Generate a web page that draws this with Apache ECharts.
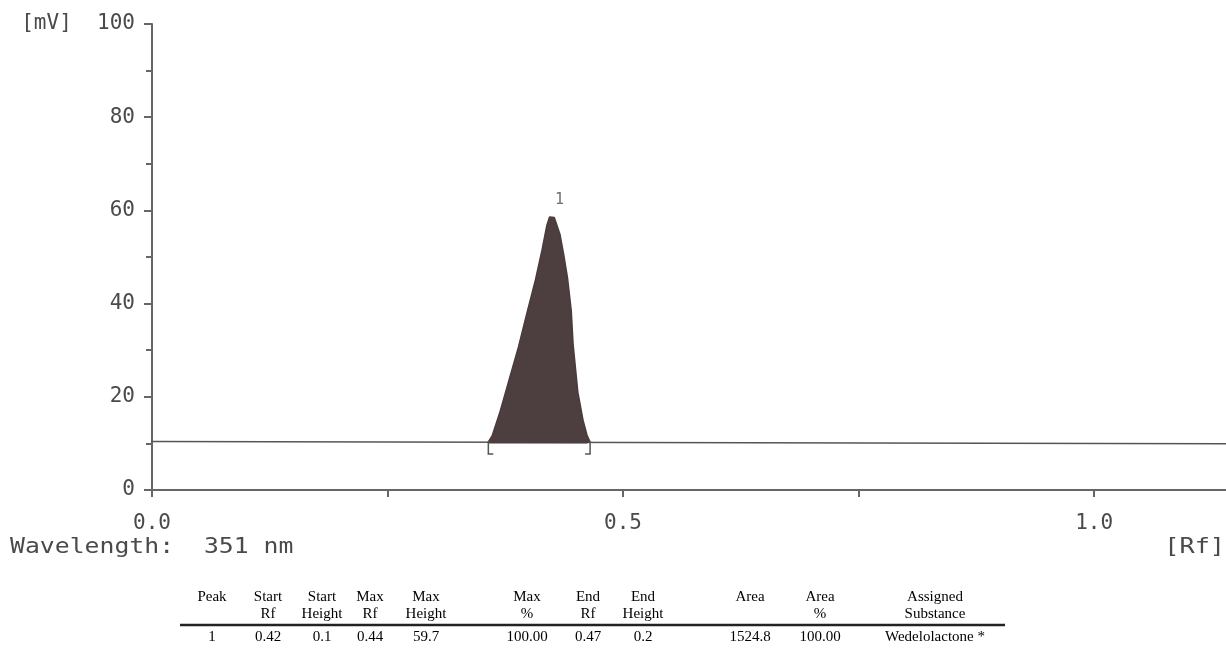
<!DOCTYPE html>
<html>
<head>
<meta charset="utf-8">
<title>Densitogram</title>
<script src="https://cdn.jsdelivr.net/npm/echarts@6/dist/echarts.min.js"></script>
<style>
  html, body { margin: 0; padding: 0; background: #fff; }
  #chart { width: 1226px; height: 655px; }
</style>
</head>
<body>
<div id="chart"></div>
<script>
// scan track (Rf vs mV)
const peakRf = [0.357, 0.361, 0.369, 0.379, 0.389, 0.398, 0.407, 0.414, 0.419, 0.422, 0.424, 0.427, 0.433, 0.437, 0.441, 0.445, 0.447, 0.452, 0.4575, 0.4617, 0.465]
const peakMv = [10.3, 11.6, 16.5, 23.6, 30.7, 38.0, 45.1, 51.5, 56.7, 58.6, 59.0, 58.5, 54.9, 50.5, 45.6, 38.5, 31.2, 21.0, 15.0, 11.8, 10.3]
const baselineRf = [-0.01, 1.14]
const baselineMv = [10.4, 9.9]
// peak start / end brackets
const bracketRf = [0.357, 0.465]
const bracketMv = [10.3, 10.3]
const peakTop = [0.424, 59.0]
const peakName = '1'

const yTicks = [0, 20, 40, 60, 80, 100]
const xTickLabels = ['0.0', '', '0.5', '', '1.0']

// result table
const tableHead1 = ['Peak', 'Start', 'Start', 'Max', 'Max', 'Max', 'End', 'End', 'Area', 'Area', 'Assigned']
const tableHead2 = ['', 'Rf', 'Height', 'Rf', 'Height', '%', 'Rf', 'Height', '', '%', 'Substance']
const tableRow = ['1', '0.42', '0.1', '0.44', '59.7', '100.00', '0.47', '0.2', '1524.8', '100.00', 'Wedelolactone *']
// column centres (layout only)
const colX = [212, 268, 322, 370, 426, 527, 588, 643, 750, 820, 935]

const chart = echarts.init(document.getElementById('chart'))

const monoFont = 'DejaVu Sans Mono'
const textGray = '#4a4a4a'

const tableGraphics = []
colX.forEach((x, i) => {
  const rows = [[tableHead1[i], 597], [tableHead2[i], 614], [tableRow[i], 637]]
  rows.forEach(([t, y]) => {
    if (!t) return
    tableGraphics.push({
      type: 'text',
      x: x,
      y: y,
      silent: true,
      style: {
        text: t,
        font: '15px "Liberation Serif"',
        fill: '#000',
        align: 'center',
        verticalAlign: 'middle'
      }
    })
  })
})
tableGraphics.push({
  type: 'line',
  silent: true,
  shape: { x1: 180, y1: 625, x2: 1005, y2: 625 },
  style: { stroke: '#222', lineWidth: 2.5 }
})

const option = {
  animation: false,
  backgroundColor: '#fff',
  grid: { left: 152, top: 24, right: 0, bottom: 165 },
  xAxis: {
    type: 'value',
    min: 0,
    max: 1.14,
    interval: 0.25,
    axisLine: { lineStyle: { color: '#666', width: 2 } },
    axisTick: { length: 7, lineStyle: { color: '#666', width: 2 } },
    splitLine: { show: false },
    axisLabel: {
      margin: 23,
      fontFamily: monoFont,
      fontSize: 21,
      color: textGray,
      showMaxLabel: false,
      formatter: (v) => {
        const k = Math.round(v / 0.25)
        return xTickLabels[k] !== undefined ? xTickLabels[k] : ''
      }
    }
  },
  yAxis: {
    type: 'value',
    min: 0,
    max: 100,
    interval: 20,
    axisLine: { show: true, lineStyle: { color: '#666', width: 2 } },
    axisTick: { show: true, length: 8, lineStyle: { color: '#666', width: 2 } },
    minorTick: { show: true, splitNumber: 2, length: 6, lineStyle: { color: '#666', width: 2 } },
    splitLine: { show: false },
    axisLabel: {
      margin: 17,
      fontFamily: monoFont,
      fontSize: 21,
      color: textGray,
      formatter: (v) => (yTicks.includes(v) ? (v === 100 ? '[mV]  ' + v : String(v)) : '')
    }
  },
  series: [
    {
      name: 'baseline',
      type: 'line',
      symbol: 'none',
      clip: false,
      data: baselineRf.map((x, i) => [x, baselineMv[i]]),
      lineStyle: { color: '#555', width: 1.5 },
      z: 3
    },
    {
      name: 'peak',
      type: 'line',
      symbol: 'none',
      smooth: false,
      data: peakRf.map((x, i) => [x, peakMv[i]]),
      lineStyle: { color: '#4a3c3c', width: 1.5 },
      areaStyle: { color: '#4d3f3f', opacity: 1, origin: 10 },
      z: 4
    },
    {
      name: 'peak no.',
      type: 'scatter',
      symbolSize: 0,
      data: [peakTop],
      label: {
        show: true,
        position: 'top',
        offset: [8, -2],
        formatter: peakName,
        fontFamily: monoFont,
        fontSize: 15,
        color: textGray
      },
      z: 5
    },
    {
      name: 'brackets',
      type: 'custom',
      data: bracketRf.map((x, i) => [x, bracketMv[i], i]),
      renderItem: (params, api) => {
        const p = api.coord([api.value(0), api.value(1)])
        const dir = api.value(2) === 0 ? 1 : -1
        return {
          type: 'polyline',
          shape: { points: [[p[0], p[1] - 1], [p[0], p[1] + 12], [p[0] + dir * 5, p[1] + 12]] },
          style: { stroke: '#555', lineWidth: 1.5, fill: null }
        }
      },
      z: 5
    }
  ],
  graphic: [
    {
      type: 'text',
      x: 10,
      y: 548,
      scaleX: 1.18,
      silent: true,
      style: {
        text: 'Wavelength:  351 nm',
        font: '21px "DejaVu Sans Mono"',
        fill: textGray,
        align: 'left',
        verticalAlign: 'middle'
      }
    },
    {
      type: 'text',
      x: 1225,
      y: 548,
      scaleX: 1.2,
      silent: true,
      style: {
        text: '[Rf]',
        font: '21px "DejaVu Sans Mono"',
        fill: textGray,
        align: 'right',
        verticalAlign: 'middle'
      }
    }
  ].concat(tableGraphics)
}

chart.setOption(option)
</script>
</body>
</html>
